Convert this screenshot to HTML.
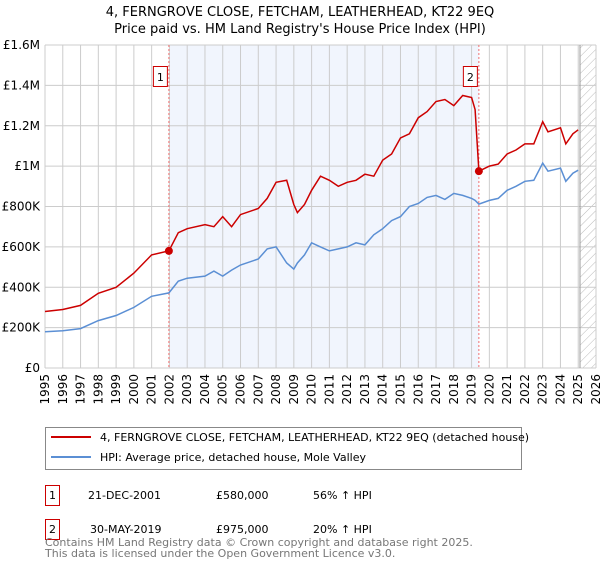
<!DOCTYPE html>
<html><head><meta charset="utf-8"><style>
body{margin:0;background:#fff;font-family:"DejaVu Sans","Liberation Sans",sans-serif;}
svg text{font-family:"DejaVu Sans","Liberation Sans",sans-serif;}
</style></head><body>
<svg id="c" width="600" height="560" xmlns="http://www.w3.org/2000/svg">
<defs><pattern id="hatch" width="6" height="6" patternUnits="userSpaceOnUse" patternTransform="rotate(45)"><line x1="0" y1="0" x2="0" y2="6" stroke="#bbb" stroke-width="1"/></pattern></defs>
<text x="300" y="16" text-anchor="middle" font-size="13">4, FERNGROVE CLOSE, FETCHAM, LEATHERHEAD, KT22 9EQ</text>
<text x="300" y="33" text-anchor="middle" font-size="13">Price paid vs. HM Land Registry's House Price Index (HPI)</text>
<g id="plot"></g>
<g>
<rect x="45.5" y="427.5" width="476" height="42" fill="#fff" stroke="#888"/>
<line x1="51" y1="437" x2="91" y2="437" stroke="#cc0000" stroke-width="2"/>
<text x="100" y="441" font-size="11">4, FERNGROVE CLOSE, FETCHAM, LEATHERHEAD, KT22 9EQ (detached house)</text>
<line x1="51" y1="457" x2="91" y2="457" stroke="#5b8fd4" stroke-width="2"/>
<text x="100" y="461" font-size="11">HPI: Average price, detached house, Mole Valley</text>
</g>
<g font-size="11">
<rect x="45.5" y="485.5" width="14" height="20" fill="#fff" stroke="#cc0000"/>
<text x="52.5" y="499" text-anchor="middle">1</text>
<text x="88" y="499">21-DEC-2001</text><text x="216" y="499">£580,000</text><text x="313" y="499">56% ↑ HPI</text>
<rect x="45.5" y="519.5" width="14" height="20" fill="#fff" stroke="#cc0000"/>
<text x="52.5" y="533" text-anchor="middle">2</text>
<text x="90" y="533">30-MAY-2019</text><text x="216" y="533">£975,000</text><text x="313" y="533">20% ↑ HPI</text>
</g>
<text x="45" y="546" font-size="11" fill="#777">Contains HM Land Registry data © Crown copyright and database right 2025.</text>
<text x="45" y="557" font-size="11" fill="#777">This data is licensed under the Open Government Licence v3.0.</text>
</svg>
<script>
const dates=[1995,1996,1997,1998,1999,2000,2001,2001.97,2002.5,2003,2004,2004.5,2005,2005.5,2006,2007,2007.5,2008,2008.6,2009,2009.2,2009.6,2010,2010.5,2011,2011.5,2012,2012.5,2013,2013.5,2014,2014.5,2015,2015.5,2016,2016.5,2017,2017.5,2018,2018.5,2019,2019.2,2019.41,2020,2020.5,2021,2021.5,2022,2022.5,2023,2023.3,2024,2024.3,2024.7,2025];
const priceSeries=[280,290,310,370,400,470,560,580,670,690,710,700,750,700,760,790,840,920,930,810,770,810,880,950,930,900,920,930,960,950,1030,1060,1140,1160,1240,1270,1320,1330,1300,1350,1340,1280,975,1000,1010,1060,1080,1110,1110,1220,1170,1190,1110,1160,1180];
const hpiSeries=[180,185,195,235,260,300,355,372,430,445,455,480,455,485,510,540,590,600,520,490,520,560,620,600,580,590,600,620,610,660,690,730,750,800,815,845,855,835,865,855,840,830,812,830,840,880,900,925,930,1015,975,990,925,965,980];
const saleDates=[2001.97,2019.41];
const salePrices=[580,975];
const saleLabels=["1","2"];
const yTicks=[0,200,400,600,800,1000,1200,1400,1600];
const yTickLabels=["£0","£200K","£400K","£600K","£800K","£1M","£1.2M","£1.4M","£1.6M"];
const xYears=[1995,1996,1997,1998,1999,2000,2001,2002,2003,2004,2005,2006,2007,2008,2009,2010,2011,2012,2013,2014,2015,2016,2017,2018,2019,2020,2021,2022,2023,2024,2025,2026];
const L=45,R=596,T=45,B=368;
const X=v=>L+(v-1995)/(2026-1995)*(R-L);
const Y=v=>B-v/1600*(B-T);
const g=document.getElementById('plot');
const NS="http://www.w3.org/2000/svg";
function mk(t,a){const e=document.createElementNS(NS,t);for(const k in a)e.setAttribute(k,a[k]);g.appendChild(e);return e;}
let e=mk('rect',{x:X(saleDates[0]),y:T,width:X(saleDates[1])-X(saleDates[0]),height:B-T,fill:'#eef3fc',opacity:0.8});


e=mk('rect',{x:X(2025.1),y:T,width:R-X(2025.1),height:B-T,fill:'url(#hatch)'});


yTicks.forEach((v,i)=>{
 let l=mk('line',{x1:L,x2:R,y1:Y(v),y2:Y(v),stroke:'#ccc'});
 
 
 let t=mk('text',{x:L-5,y:Y(v)+4,'text-anchor':'end','font-size':12});
 t.textContent=yTickLabels[i];
 
 
});
xYears.forEach(v=>{
 let l=mk('line',{x1:X(v),x2:X(v),y1:T,y2:B,stroke:'#ccc'});
 
 
 let t=mk('text',{x:0,y:0,'text-anchor':'end','font-size':12,transform:`translate(${X(v)+4},${B+6}) rotate(-90)`});
 t.textContent=v;
 
 
});
e=mk('line',{x1:X(2025.1),x2:X(2025.1),y1:T,y2:B,stroke:'#999'});


saleDates.forEach((d,i)=>{
 let l=mk('line',{x1:X(d),x2:X(d),y1:T,y2:B,stroke:'#f07070','stroke-dasharray':'2,2'});
 
 
});
const path=(arr)=>arr.map((v,i)=>(i?'L':'M')+X(dates[i]).toFixed(1)+','+Y(v).toFixed(1)).join('');
e=mk('path',{d:path(hpiSeries),fill:'none',stroke:'#5b8fd4','stroke-width':1.5});


e=mk('path',{d:path(priceSeries),fill:'none',stroke:'#cc0000','stroke-width':1.5});


saleDates.forEach((d,i)=>{
 let c=mk('circle',{cx:X(d),cy:Y(salePrices[i]),r:4,fill:'#cc0000'});
 
 
 let r=mk('rect',{x:X(d)-15.5,y:66.5,width:14,height:20,fill:'#fff',stroke:'#cc0000'});
 
 
 let t=mk('text',{x:X(d)-8.5,y:81,'text-anchor':'middle','font-size':11});
 t.textContent=saleLabels[i];
 
 
});
</script>
</body></html>
